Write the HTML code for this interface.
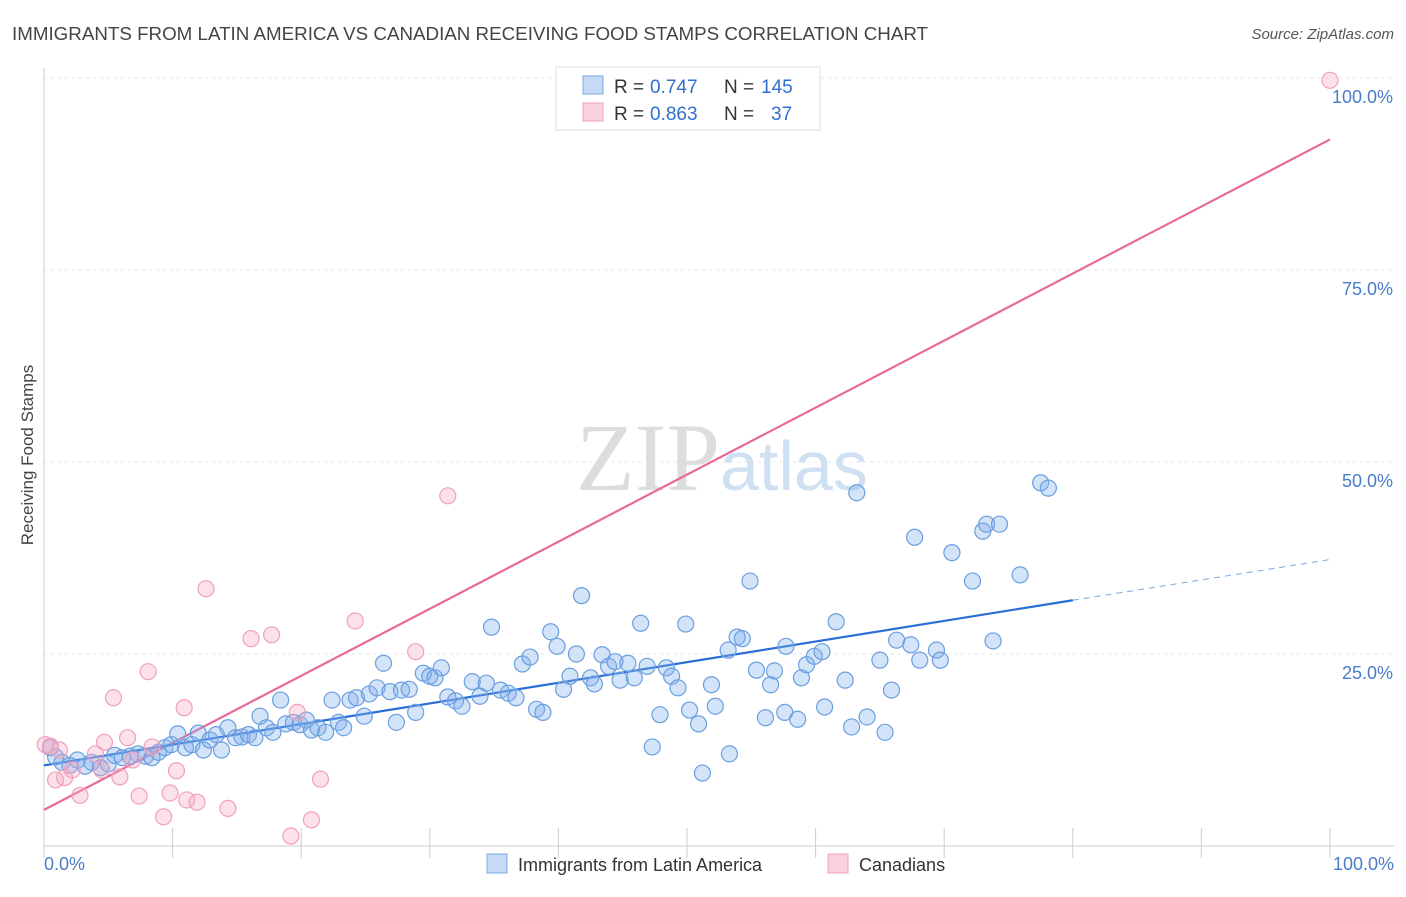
<!DOCTYPE html>
<html><head><meta charset="utf-8"><style>
body{margin:0;background:#fff;font-family:"Liberation Sans",sans-serif}
</style></head><body>
<svg width="1406" height="892" viewBox="0 0 1406 892" xmlns="http://www.w3.org/2000/svg">
<text x="12" y="40" font-size="18" fill="#444" textLength="916" lengthAdjust="spacingAndGlyphs">IMMIGRANTS FROM LATIN AMERICA VS CANADIAN RECEIVING FOOD STAMPS CORRELATION CHART</text>
<text x="1394" y="39" font-size="15" fill="#555" font-style="italic" text-anchor="end">Source: ZipAtlas.com</text>
<g id="grid"></g>
<text x="720" y="490" font-size="96" fill="#ddd" text-anchor="end" font-family="Liberation Serif">ZIP</text>
<text x="720" y="490" font-size="70" fill="#cfe0f3">atlas</text>
<line x1="44" y1="68" x2="44" y2="846" stroke="#ccc"/>
<line x1="44" y1="846" x2="1394" y2="846" stroke="#ccc"/>
<g id="ticks"></g>
<g id="lines"></g>
<g id="pts"></g>
<text x="33" y="455" font-size="17" fill="#444" text-anchor="middle" transform="rotate(-90 33 455)">Receiving Food Stamps</text>
<text x="44" y="870" font-size="18" fill="#4a7cc9">0.0%</text>
<text x="1394" y="870" font-size="18" fill="#4a7cc9" text-anchor="end">100.0%</text>
<g id="ylab"></g>
<g>
<rect x="556" y="67" width="264" height="63" fill="#fff" stroke="#ddd"/>
<rect x="583" y="76" width="20" height="18" fill="#c5daf5" stroke="#7aa8e0"/>
<rect x="583" y="103" width="20" height="18" fill="#fbd0dd" stroke="#f0a0bc"/>
<text x="614" y="93" font-size="19" fill="#333">R =</text>
<text x="650" y="93" font-size="19" fill="#2f6fd0">0.747</text>
<text x="724" y="93" font-size="19" fill="#333">N =</text>
<text x="761" y="93" font-size="19" fill="#2f6fd0">145</text>
<text x="614" y="120" font-size="19" fill="#333">R =</text>
<text x="650" y="120" font-size="19" fill="#2f6fd0">0.863</text>
<text x="724" y="120" font-size="19" fill="#333">N =</text>
<text x="771" y="120" font-size="19" fill="#2f6fd0">37</text>
</g>
<g>
<rect x="487" y="854" width="20" height="19" fill="#c5daf5" stroke="#7aa8e0"/>
<text x="518" y="871" font-size="18" fill="#333">Immigrants from Latin America</text>
<rect x="828" y="854" width="20" height="19" fill="#fbd0dd" stroke="#f0a0bc"/>
<text x="859" y="871" font-size="18" fill="#333">Canadians</text>
</g>
</svg>
<script>
const blueX=[0.5,0.9,1.4,2.0,2.6,3.2,3.7,4.4,5.0,5.5,6.1,6.7,7.3,7.9,8.4,8.9,9.4,9.9,10.4,11.0,11.5,12.0,12.4,12.9,13.4,13.8,14.3,14.9,15.4,15.9,16.4,16.8,17.3,17.8,18.4,18.8,19.4,19.9,20.4,20.8,21.3,21.9,22.4,22.9,23.3,23.8,24.3,24.9,25.3,25.9,26.4,26.9,27.4,27.8,28.4,28.9,29.5,30.0,30.4,30.9,31.4,32.0,32.5,33.3,33.9,34.4,34.8,35.5,36.1,36.7,37.2,37.8,38.3,38.8,39.4,39.9,40.4,40.9,41.4,41.8,42.5,42.8,43.4,43.9,44.4,44.8,45.4,45.9,46.4,46.9,47.3,47.9,48.4,48.8,49.3,49.9,50.2,50.9,51.2,51.9,52.2,53.2,53.3,53.9,54.3,54.9,55.4,56.1,56.5,56.8,57.6,57.7,58.6,58.9,59.3,59.9,60.5,60.7,61.6,62.3,62.8,63.2,64.0,65.0,65.4,65.9,66.3,67.4,67.7,68.1,69.4,69.7,70.6,72.2,73.0,73.3,74.3,73.8,75.9,77.5,78.1];
const blueY=[12.8,11.6,10.9,10.5,11.2,10.4,10.9,10.2,10.7,11.8,11.5,11.7,12.0,11.7,11.5,12.2,12.8,13.2,14.6,12.8,13.2,14.7,12.5,13.8,14.5,12.5,15.4,14.1,14.2,14.5,14.1,16.9,15.4,14.8,19.0,15.9,16.1,15.8,16.4,15.1,15.4,14.8,19.0,16.1,15.4,19.0,19.3,16.9,19.8,20.6,23.8,20.1,16.1,20.3,20.4,17.4,22.5,22.1,21.9,23.2,19.4,18.9,18.2,21.4,19.5,21.2,28.5,20.3,19.9,19.3,23.7,24.6,17.8,17.4,27.9,26.0,20.4,22.1,25.0,32.6,21.9,21.1,24.9,23.4,24.0,21.6,23.8,21.9,29.0,23.4,12.9,17.1,23.2,22.1,20.6,28.9,17.7,15.9,9.5,21.0,18.2,25.5,12.0,27.2,27.0,34.5,22.9,16.7,21.0,22.8,17.4,26.0,16.5,21.9,23.6,24.7,25.3,18.1,29.2,21.6,15.5,46.0,16.8,24.2,14.8,20.3,26.8,26.2,40.2,24.2,25.5,24.2,38.2,34.5,41.0,41.9,41.9,26.7,35.3,47.3,46.6];
const pinkX=[0.5,0.9,1.6,2.2,2.8,4.0,4.7,5.4,5.9,6.5,6.9,7.4,8.1,8.4,9.3,9.8,10.3,10.9,11.1,11.9,12.6,14.3,16.1,17.7,19.2,19.7,20.8,21.5,24.2,28.9,31.4,100,0.1,1.2,4.5];
const pinkY=[13.0,8.6,8.9,9.9,6.6,12.0,13.5,19.3,9.0,14.1,11.2,6.5,22.7,12.9,3.8,6.9,9.8,18.0,6.0,5.7,33.5,4.9,27.0,27.5,1.3,17.4,3.4,8.7,29.3,25.3,45.6,99.7,13.2,12.5,9.9];
const blueTrend=[[0,10.5],[80,32.0]], blueDash=[[80,32.0],[100,37.3]], pinkTrend=[[0,4.7],[100,92.0]];
const yTicks=[25,50,75,100], yTickLabels=["25.0%","50.0%","75.0%","100.0%"];
const xTicks=[0,10,20,30,40,50,60,70,80,90,100];
const sx=v=>44+v*12.86, sy=v=>846-v*7.68;
const NS="http://www.w3.org/2000/svg";
function mk(t,a,p){const e=document.createElementNS(NS,t);for(const k in a)e.setAttribute(k,a[k]);document.getElementById(p).appendChild(e);return e;}
yTicks.forEach((v,i)=>{
 const l=mk('line',{x1:44,x2:1394,y1:sy(v),y2:sy(v),stroke:'#e6e6e6','stroke-dasharray':'3,4'},'grid');
 
 
 const t=mk('text',{x:1393,y:sy(v)+25,'font-size':18,fill:'#4a7cc9','text-anchor':'end'},'ylab');
 t.textContent=yTickLabels[i];
 
 
});
xTicks.forEach(v=>{
 const l=mk('line',{x1:sx(v),x2:sx(v),y1:828,y2:858,stroke:'#ccc'},'ticks');
 
 
});
function tl(seg,col,dash,name){
 const l=mk('line',{x1:sx(seg[0][0]),y1:sy(seg[0][1]),x2:sx(seg[1][0]),y2:sy(seg[1][1]),stroke:col,'stroke-width':dash?1:2.2},'lines');
 if(dash)l.setAttribute('stroke-dasharray','6,5');
 
 
}
tl(pinkTrend,'#e8699a',false,'canadians-trend-line');
tl(blueTrend,'#2a6fd6',false,'immigrants-trend-line');
tl(blueDash,'#7aa8e0',true,'immigrants-trend-extension');
blueX.forEach((x,i)=>{
 const c=mk('circle',{cx:sx(x),cy:sy(blueY[i]),r:8,fill:'rgba(130,175,235,0.35)',stroke:'#6a9fe0','stroke-width':1.2},'pts');
 
 
});
pinkX.forEach((x,i)=>{
 const c=mk('circle',{cx:sx(x),cy:sy(pinkY[i]),r:8,fill:'rgba(245,170,195,0.35)',stroke:'#f0a0bc','stroke-width':1.2},'pts');
 
 
});
</script>
</body></html>
